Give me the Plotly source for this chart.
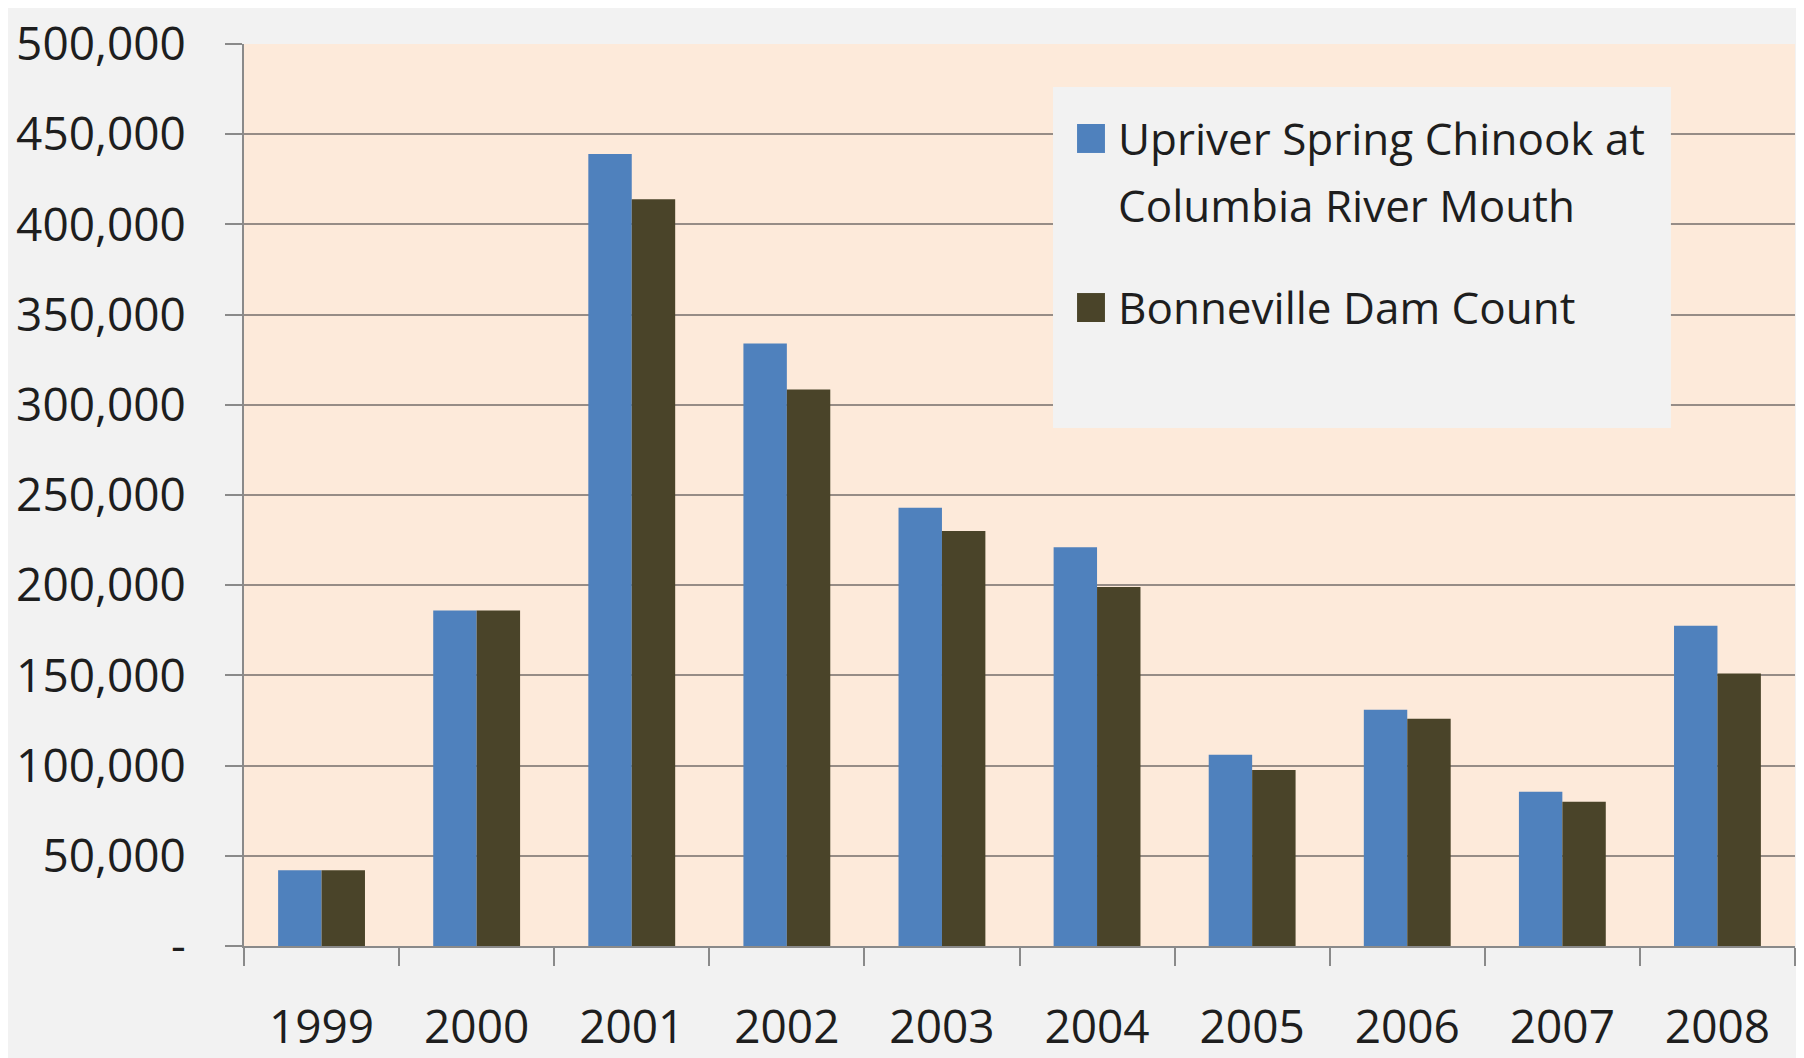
import plotly.graph_objs as go

years = ['1999', '2000', '2001', '2002', '2003', '2004', '2005', '2006', '2007', '2008']
upriver_mouth = [42000, 186000, 439000, 334000, 243000, 221000, 106000, 131000, 85500, 177500]
bonneville = [42000, 186000, 414000, 308500, 230000, 199000, 97500, 126000, 80000, 151000]

y_tickvals = [0, 50000, 100000, 150000, 200000, 250000, 300000, 350000, 400000, 450000, 500000]
y_ticktext = ['-', '50,000', '100,000', '150,000', '200,000', '250,000',
              '300,000', '350,000', '400,000', '450,000', '500,000']

series_names = ['Upriver Spring Chinook at Columbia River Mouth', 'Bonneville Dam Count']
legend_lines = [['Upriver Spring Chinook at', 'Columbia River Mouth'], ['Bonneville Dam Count']]
series_colors = ['#4f81bd', '#4a4429']


def make_plot():
    font_family = 'Open Sans, sans-serif'
    grid_color = '#968c86'
    axis_color = '#8a8a8a'

    traces = [
        go.Bar(
            x=years,
            y=upriver_mouth,
            name=series_names[0],
            marker=dict(color=series_colors[0], line=dict(width=0)),
        ),
        go.Bar(
            x=years,
            y=bonneville,
            name=series_names[1],
            marker=dict(color=series_colors[1], line=dict(width=0)),
        ),
    ]

    # legend drawn by hand so the box, swatches and line spacing match
    shapes = [
        dict(type='rect', xref='paper', yref='paper',
             x0=0.5216, x1=0.92, y0=0.5743, y1=0.9523,
             fillcolor='#f2f2f2', line=dict(width=0), layer='above'),
        dict(type='rect', xref='paper', yref='paper',
             x0=0.5371, x1=0.5551, y0=0.8792, y1=0.9113,
             fillcolor=series_colors[0], line=dict(width=0), layer='above'),
        dict(type='rect', xref='paper', yref='paper',
             x0=0.5371, x1=0.5551, y0=0.6918, y1=0.7239,
             fillcolor=series_colors[1], line=dict(width=0), layer='above'),
    ]
    line_ys = [0.8958, 0.8215, 0.7084]
    texts = legend_lines[0] + legend_lines[1]
    annotations = [
        dict(text=t, xref='paper', yref='paper', x=0.5622, y=ly,
             xanchor='left', yanchor='middle', showarrow=False,
             font=dict(family=font_family, size=44, color='#1e1e1e'))
        for t, ly in zip(texts, line_ys)
    ]

    layout = go.Layout(
        width=1796,
        height=1050,
        barmode='group',
        bargap=0.44,
        bargroupgap=0,
        paper_bgcolor='#f2f2f2',
        plot_bgcolor='#fdeada',
        font=dict(family=font_family, size=46, color='#1e1e1e'),
        margin=dict(t=36, b=112, l=236, r=9, autoexpand=False),
        showlegend=False,
        xaxis=dict(
            type='category',
            automargin=False,
            showgrid=False,
            showline=True,
            linecolor=axis_color,
            linewidth=2,
            ticks='outside',
            tickson='boundaries',
            ticklen=18,
            tickwidth=2,
            tickcolor=axis_color,
            ticklabelstandoff=40,
            ticklabeloverflow='allow',
        ),
        yaxis=dict(
            range=[0, 500000],
            autorange=False,
            automargin=False,
            tickmode='array',
            tickvals=y_tickvals,
            ticktext=y_ticktext,
            showgrid=True,
            gridcolor=grid_color,
            gridwidth=2,
            zeroline=False,
            showline=True,
            linecolor=axis_color,
            linewidth=2,
            ticks='outside',
            ticklen=17,
            tickwidth=2,
            tickcolor=axis_color,
            ticklabelstandoff=30,
            ticklabeloverflow='allow',
        ),
        shapes=shapes,
        annotations=annotations,
    )

    fig = go.Figure(data=traces, layout=layout)
    fig.write_html('out.html')


if __name__ == '__main__':
    make_plot()
